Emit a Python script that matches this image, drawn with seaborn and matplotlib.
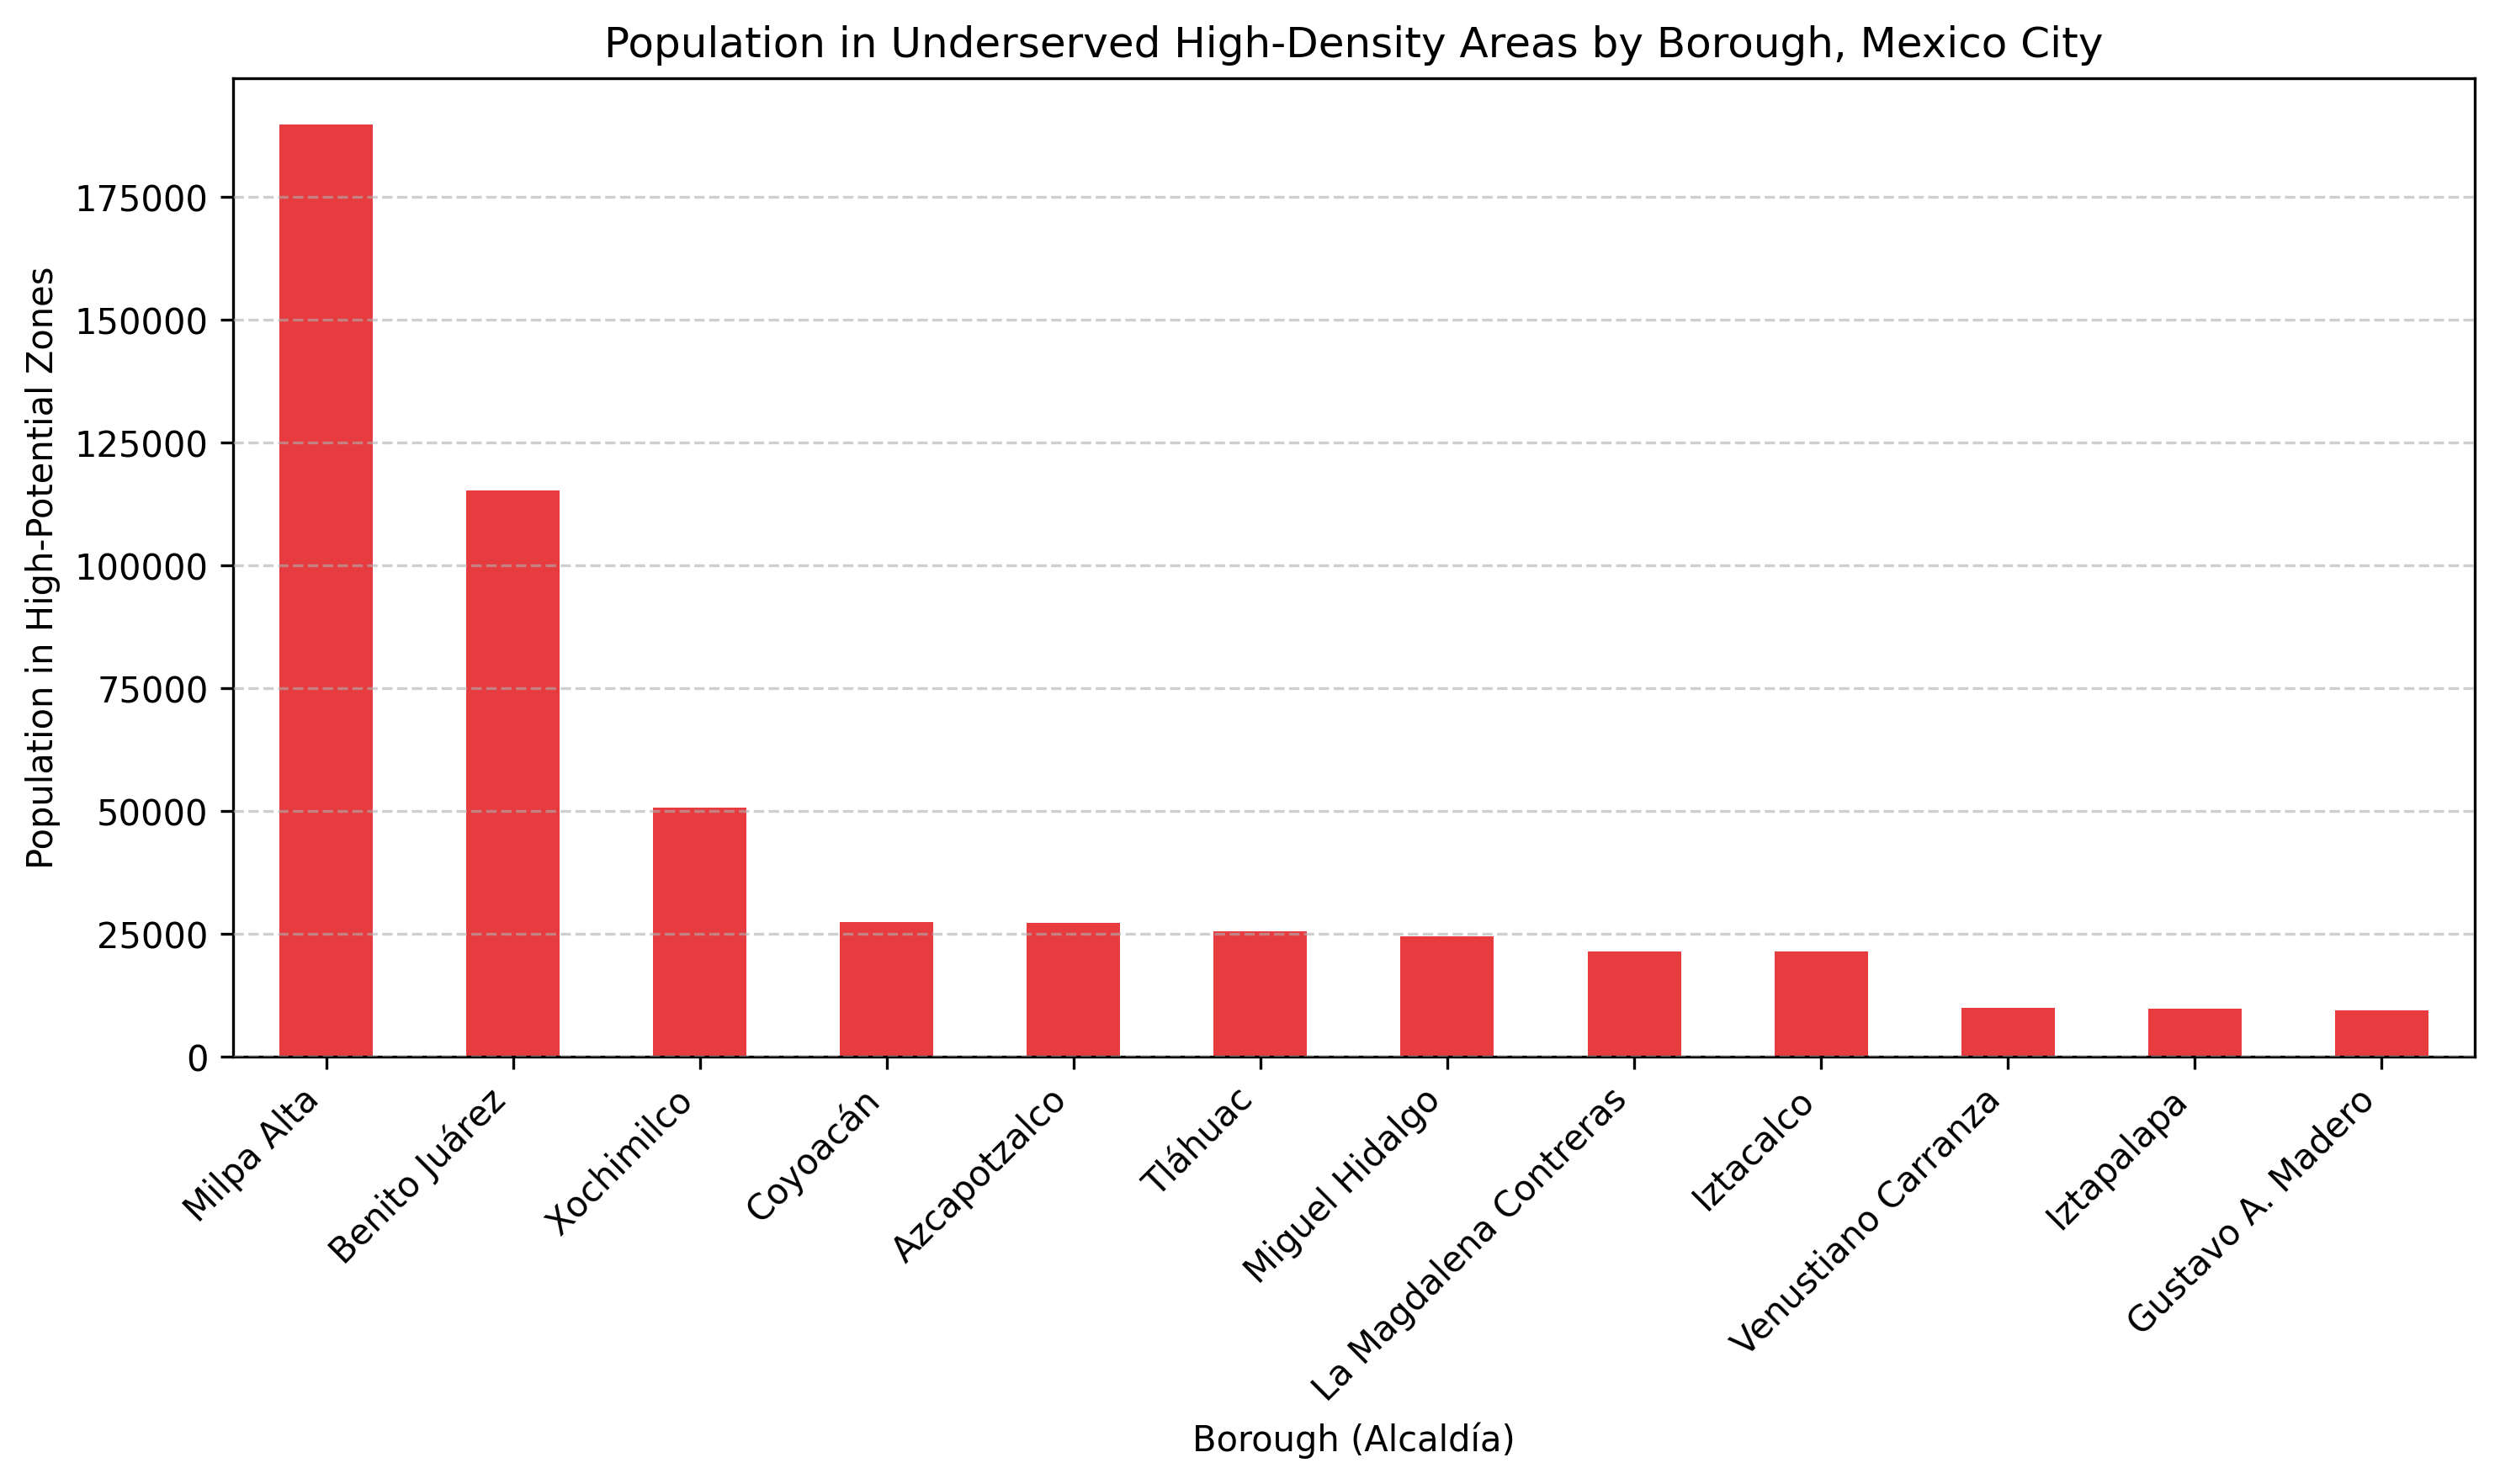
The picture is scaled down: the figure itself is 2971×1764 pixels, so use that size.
import pandas as pd
import matplotlib
matplotlib.use('Agg')
import matplotlib.pyplot as plt
import seaborn as sns

# Boroughs and population in high-potential zones
boroughs = ['Milpa Alta', 'Benito Juárez', 'Xochimilco', 'Coyoacán', 'Azcapotzalco',
            'Tláhuac', 'Miguel Hidalgo', 'La Magdalena Contreras', 'Iztacalco',
            'Venustiano Carranza', 'Iztapalapa', 'Gustavo A. Madero']
population = [189800, 115300, 50700, 27450, 27280, 25570, 24540, 21460, 21440,
              9930, 9760, 9420]

df = pd.DataFrame({'borough': boroughs, 'population': population})

fig, ax = plt.subplots(figsize=(10, 6))
sns.barplot(data=df, x='borough', y='population', color='#E63B3F',
            saturation=1, width=0.5, ax=ax)
ax.set_axisbelow(False)
ax.grid(axis='y', linestyle='--', alpha=0.6, zorder=3)
ax.set_title('Population in Underserved High-Density Areas by Borough, Mexico City')
ax.set_xlabel('Borough (Alcaldía)')
ax.set_ylabel('Population in High-Potential Zones')
plt.xticks(rotation=45, ha='right')
plt.tight_layout()
plt.savefig('out.png', dpi=300, bbox_inches='tight')
plt.close()
